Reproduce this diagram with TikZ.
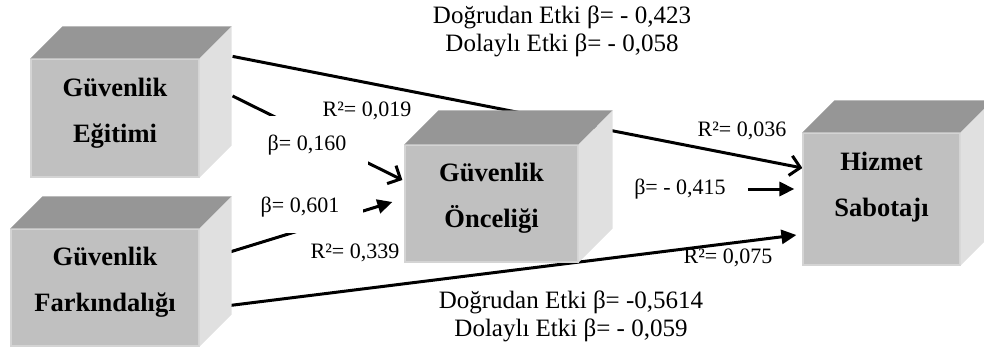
\documentclass[tikz,border=0pt]{standalone}
\usepackage{fontspec}
\setmainfont{Liberation Serif}
\usepackage{tikz}
\usetikzlibrary{arrows.meta,backgrounds}
\definecolor{onyuz}{HTML}{C0C0C0}
\definecolor{ustyuz}{HTML}{969696}
\definecolor{yanyuz}{HTML}{E0E0E0}
\definecolor{kenar}{HTML}{D4D4D4}
\tikzset{kutu/.style={fill=onyuz, draw=kenar, line width=1.2pt, inner sep=0pt, align=center, text depth=16pt, font=\fontsize{26.5}{46}\selectfont\bfseries},
	oku/.style={line width=3pt, -{Straight Barb[length=10pt,width=20pt]}},
	dolu/.style={line width=3pt, -{Triangle[length=15pt,width=14pt]}},
	etiket/.style={font=\fontsize{22}{26}\selectfont, inner sep=0pt},
	maske/.style={etiket, fill=white},
	etki/.style={font=\fontsize{25}{28}\selectfont, align=center}}

\begin{document}
\begin{tikzpicture}[x=1pt,y=-1pt]
		\useasboundingbox (0,0) rectangle (984,353);
		
		\node[kutu, minimum width=168pt, minimum height=118pt] (egitim) at (115,118) {Güvenlik\\Eğitimi};
		\node[kutu, minimum width=188pt, minimum height=117pt] (farkin) at (105,287.5) {Güvenlik\\Farkındalığı};
		\node[kutu, minimum width=173pt, minimum height=117pt] (oncel) at (491.5,203.5) {Güvenlik\\Önceliği};
		\node[kutu, minimum width=157pt, minimum height=132pt, text depth=29pt] (hizmet) at (881.5,199) {Hizmet\\Sabotajı};
		
		\fill[ustyuz] (egitim.north west) -- ([shift={(32,-32)}]egitim.north west) -- ([shift={(32,-32)}]egitim.north east) -- (egitim.north east) -- cycle;
		\fill[yanyuz] (egitim.north east) -- ([shift={(32,-32)}]egitim.north east) -- ([shift={(32,-32)}]egitim.south east) -- (egitim.south east) -- cycle;
		\fill[ustyuz] (farkin.north west) -- ([shift={(32,-32)}]farkin.north west) -- ([shift={(32,-32)}]farkin.north east) -- (farkin.north east) -- cycle;
		\fill[yanyuz] (farkin.north east) -- ([shift={(32,-32)}]farkin.north east) -- ([shift={(32,-32)}]farkin.south east) -- (farkin.south east) -- cycle;
		\fill[ustyuz] (oncel.north west) -- ([shift={(34,-34)}]oncel.north west) -- ([shift={(34,-34)}]oncel.north east) -- (oncel.north east) -- cycle;
		\fill[yanyuz] (oncel.north east) -- ([shift={(34,-34)}]oncel.north east) -- ([shift={(34,-34)}]oncel.south east) -- (oncel.south east) -- cycle;
		\fill[ustyuz] (hizmet.north west) -- ([shift={(32,-32)}]hizmet.north west) -- ([shift={(32,-32)}]hizmet.north east) -- (hizmet.north east) -- cycle;
		\fill[yanyuz] (hizmet.north east) -- ([shift={(32,-32)}]hizmet.north east) -- ([shift={(32,-32)}]hizmet.south east) -- (hizmet.south east) -- cycle;
		
		\node[etiket] (r019) at (367,111) {R²= 0,019};
		\node[maske, minimum width=122pt, minimum height=58pt] (b160) at (307,145) {β= 0,160};
		\node[maske, minimum width=126pt, minimum height=52pt] (b601) at (300,207) {β= 0,601};
		\node[etiket] (r339) at (355,253) {R²= 0,339};
		\node[etiket] (r036) at (742,131) {R²= 0,036};
		\node[etiket] (b415) at (680,189) {β= - 0,415};
		\node[etiket] (r075) at (728,258) {R²= 0,075};
		
		\node[etki] (ustetki) at (562,31) {Doğrudan Etki β= - 0,423\\Dolaylı Etki β= - 0,058};
		\node[etki] (altetki) at (571,316) {Doğrudan Etki β= -0,5614\\Dolaylı Etki β= - 0,059};
		
		\begin{scope}[on background layer]
			\draw[oku] ([xshift=33pt,yshift=2pt]egitim.north east) -- ([yshift=31pt]hizmet.west);
			\draw[oku] ([xshift=33pt,yshift=22pt]egitim.east) -- ([xshift=-2pt,yshift=23.5pt]oncel.west);
			\draw[dolu] ([xshift=27pt,yshift=34.5pt]farkin.east) -- ([xshift=-12pt,yshift=1.5pt]oncel.west);
			\draw[dolu] ([xshift=18pt,yshift=-19.5pt]farkin.east) -- ([xshift=-6pt,yshift=-36pt]hizmet.west);
			\draw[dolu] ([xshift=22pt]b415.east) -- ([xshift=-8pt,yshift=10pt]hizmet.west);
		\end{scope}
	\end{tikzpicture}
\end{document}
